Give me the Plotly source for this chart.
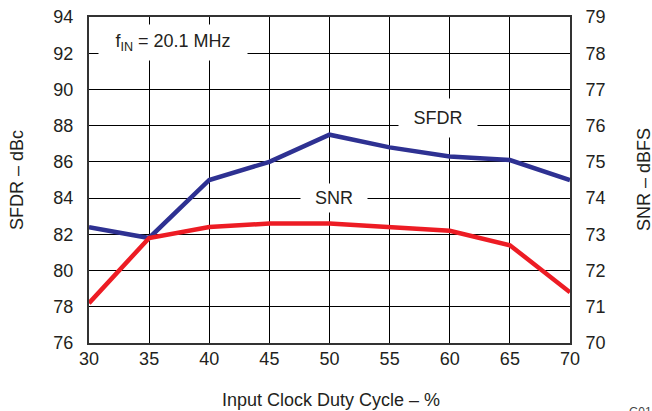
import plotly.graph_objects as go

duty = [30, 35, 40, 45, 50, 55, 60, 65, 70]
sfdr = [82.4, 81.8, 85.0, 86.0, 87.5, 86.8, 86.3, 86.1, 85.0]
snr = [71.1, 72.9, 73.2, 73.3, 73.3, 73.2, 73.1, 72.7, 71.4]

left_ticks = list(range(76, 95, 2))
right_ticks = list(range(70, 80, 1))
x_ticks = list(range(30, 71, 5))

W, H = 652, 411
L, R, T, B = 89, 570, 17, 343
pw, ph = R - L, B - T

def px(x):
    return (x - L) / pw

def py(y):
    return (B - y) / ph

font = "Liberation Sans, Arial, sans-serif"
blue = "#2e3192"
red = "#ed1c24"
txt = "#231f20"
FS = 18

fig = go.Figure()
fig.add_trace(go.Scatter(x=duty, y=sfdr, mode="lines", line=dict(color=blue, width=4.5),
                         yaxis="y", showlegend=False, hoverinfo="skip"))
fig.add_trace(go.Scatter(x=duty, y=snr, mode="lines", line=dict(color=red, width=4.5),
                         yaxis="y2", showlegend=False, hoverinfo="skip"))

axis_common = dict(showline=True, linecolor="#333333", linewidth=2, ticks="",
                   tickfont=dict(family=font, size=FS, color=txt),
                   zeroline=False, automargin=False)

def center_ann(text, x, y, angle=0):
    return dict(text=text, x=x, y=y, xref="paper", yref="paper", xanchor="center",
                yanchor="middle", textangle=angle, showarrow=False,
                font=dict(family=font, size=FS, color=txt))

fig.update_layout(
    width=W, height=H,
    margin=dict(l=L, r=W - R, t=T, b=H - B, pad=0),
    paper_bgcolor="white", plot_bgcolor="white",
    font=dict(family=font, color=txt),
    xaxis=dict(range=[30, 70], tickvals=x_ticks, showgrid=True, gridcolor="#000000",
               gridwidth=1, mirror=True, ticklabelstandoff=-2, **axis_common),
    yaxis=dict(range=[76, 94], tickvals=left_ticks, showgrid=True, gridcolor="#000000",
               gridwidth=1, mirror=True, ticklabelstandoff=10, **axis_common),
    yaxis2=dict(range=[70, 79], tickvals=right_ticks, overlaying="y", side="right",
                showgrid=False, ticklabelstandoff=10, **axis_common),
    annotations=[
        dict(text="f<sub>IN</sub> = 20.1 MHz", x=37.0, y=92.6, xref="x", yref="y",
             showarrow=False, bgcolor="white", width=146, height=33,
             font=dict(family=font, size=FS, color=txt)),
        dict(text="SFDR", x=59.0, y=88.4, xref="x", yref="y",
             showarrow=False, bgcolor="white", width=76, height=36,
             font=dict(family=font, size=FS, color=txt)),
        dict(text="SNR", x=50.4, y=84.0, xref="x", yref="y",
             showarrow=False, bgcolor="white", width=64, height=26,
             font=dict(family=font, size=FS, color=txt)),
        center_ann("SFDR – dBc", px(17), py(180), -90),
        center_ann("SNR – dBFS", px(644), py(180), -90),
        center_ann("Input Clock Duty Cycle – %", px(331), py(400)),
        dict(text="G01", x=px(627), y=py(403), xref="paper", yref="paper",
             xanchor="left", yanchor="top", showarrow=False,
             font=dict(family=font, size=12, color="#444444")),
    ],
)

fig.write_html("out.html", config={"displayModeBar": False},
               post_script="document.body.style.margin='0';document.body.style.overflow='hidden';")
